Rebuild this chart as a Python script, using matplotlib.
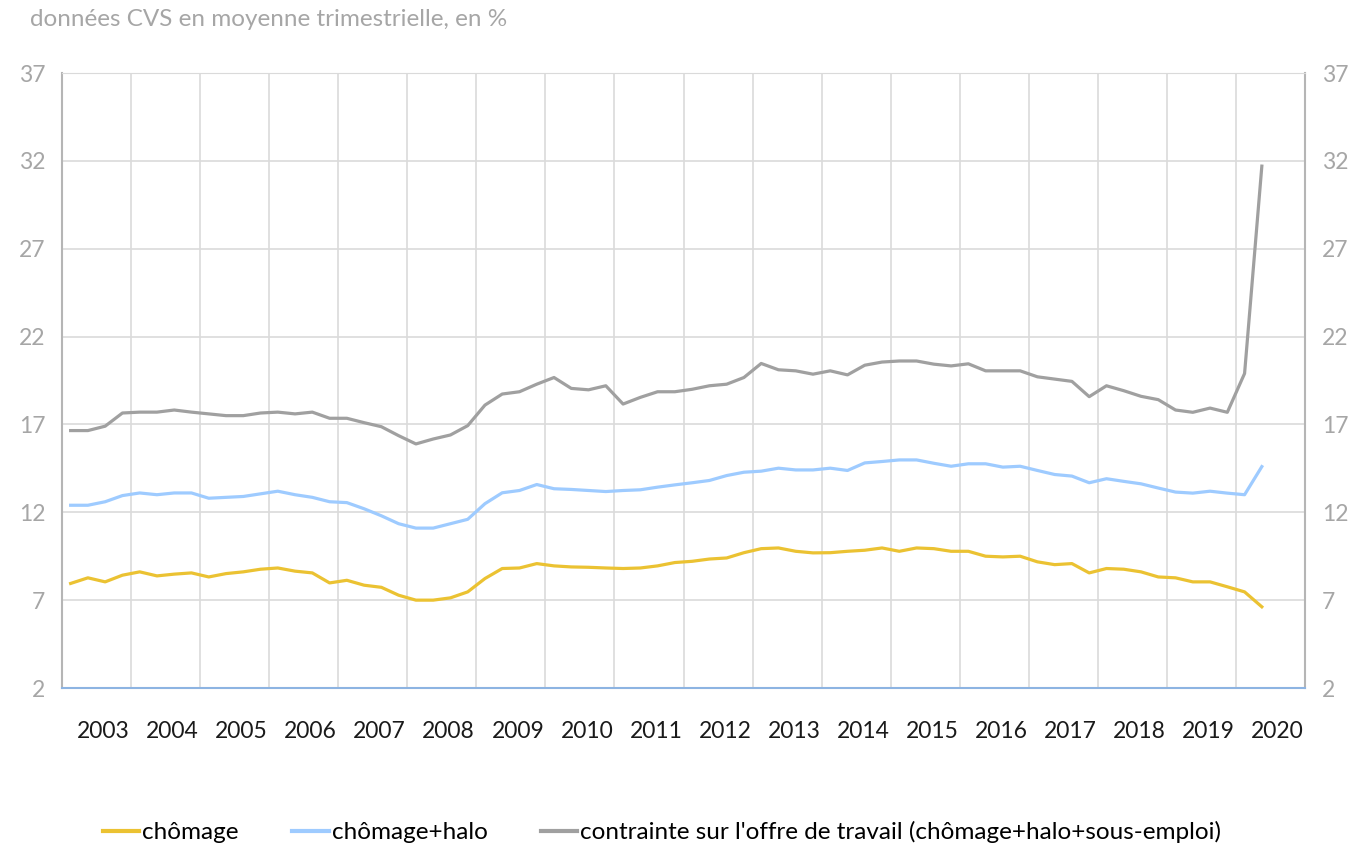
import matplotlib
matplotlib.use("Agg")
import matplotlib.pyplot as plt
import numpy as np

plt.rcParams['font.family'] = ['Lato', 'DejaVu Sans']

# quarterly data, 2003 Q1 -> 2020 Q2
years = list(range(2003, 2021))
first_year = 2003
n_quarters = 70

chomage = [7.95, 8.27, 8.04, 8.42, 8.61, 8.38, 8.48, 8.55, 8.32, 8.51,
           8.61, 8.76, 8.83, 8.65, 8.55, 7.98, 8.13, 7.85, 7.73, 7.28,
           7.0, 7.0, 7.13, 7.47, 8.23, 8.8, 8.83, 9.08, 8.95, 8.89,
           8.87, 8.83, 8.8, 8.83, 8.95, 9.14, 9.21, 9.34, 9.4, 9.7,
           9.93, 9.97, 9.78, 9.69, 9.7, 9.78, 9.84, 9.97, 9.78, 9.97,
           9.93, 9.78, 9.78, 9.5, 9.46, 9.5, 9.18, 9.02, 9.08, 8.55,
           8.8, 8.76, 8.61, 8.32, 8.27, 8.04, 8.04, 7.76, 7.47, 6.62]

chomage_halo = [12.4, 12.4, 12.6, 12.95, 13.1, 13.0, 13.1, 13.1, 12.8, 12.85,
                12.9, 13.05, 13.2, 13.0, 12.85, 12.6, 12.55, 12.2, 11.8, 11.35,
                11.1, 11.1, 11.35, 11.6, 12.49, 13.11, 13.24, 13.58, 13.34, 13.3,
                13.24, 13.18, 13.24, 13.28, 13.43, 13.56, 13.68, 13.81, 14.09, 14.28,
                14.34, 14.51, 14.41, 14.41, 14.51, 14.38, 14.81, 14.89, 14.98, 14.98,
                14.79, 14.62, 14.76, 14.76, 14.57, 14.62, 14.38, 14.15, 14.06, 13.68,
                13.91, 13.76, 13.62, 13.38, 13.15, 13.09, 13.2, 13.09, 13.0, 14.6]

contrainte = [16.65, 16.65, 16.9, 17.65, 17.7, 17.7, 17.82, 17.7, 17.6, 17.5,
              17.5, 17.65, 17.7, 17.6, 17.7, 17.35, 17.35, 17.1, 16.87, 16.36,
              15.89, 16.17, 16.4, 16.93, 18.1, 18.73, 18.86, 19.29, 19.67, 19.05,
              18.97, 19.2, 18.16, 18.54, 18.86, 18.86, 19.0, 19.2, 19.29, 19.67,
              20.47, 20.11, 20.05, 19.86, 20.05, 19.82, 20.37, 20.55, 20.61, 20.61,
              20.43, 20.33, 20.45, 20.05, 20.05, 20.05, 19.71, 19.58, 19.45, 18.58,
              19.2, 18.92, 18.6, 18.41, 17.82, 17.69, 17.93, 17.69, 19.9, 31.7]

labels = ['chômage', 'chômage+halo',
          "contrainte sur l'offre de travail (chômage+halo+sous-emploi)"]
colors = ['#EBC232', '#9ECBFF', '#A0A0A0']
subtitle = 'données CVS en moyenne trimestrielle, en %'

x = first_year + (np.arange(n_quarters) + 0.5) / 4

fig = plt.figure(figsize=(13.57, 8.47), dpi=100)
ax = fig.add_axes([62 / 1357, 1 - 688 / 847, (1305 - 62) / 1357, (688 - 73) / 847])

for serie, lab, col in zip([chomage, chomage_halo, contrainte], labels, colors):
    ax.plot(x, serie, color=col, lw=2.3, label=lab, solid_joinstyle='round')

ax.set_xlim(2003, 2021)
ax.set_ylim(2, 37)
ax.set_yticks(np.arange(2, 38, 5))
# gridlines on year boundaries, year labels centred in each year
ax.set_xticks(np.arange(2003, 2022))
ax.set_xticklabels([])
ax.set_xticks(np.array(years) + 0.6, minor=True)
ax.set_xticklabels([str(y) for y in years], minor=True)
ax.grid(True, which='major', color='#DADADA', lw=1.2)
ax.tick_params(axis='x', which='both', length=0, pad=24, labelsize=16.5, labelcolor='#1A1A1A')
ax.tick_params(axis='y', length=0, labelsize=16.5, labelcolor='#A6A6A6',
               labelright=True, pad=12)

for s in ['left', 'right']:
    ax.spines[s].set_color('#B5B5B5')
    ax.spines[s].set_linewidth(1.5)
ax.spines['top'].set_color('#DADADA')
ax.spines['bottom'].set_color('#8DB4E2')
ax.spines['bottom'].set_linewidth(1.5)

fig.text(30 / 1357, 1 - 20 / 847, subtitle, fontsize=17.5, color='#A6A6A6', va='center')

leg = fig.legend(loc='center', bbox_to_anchor=(662 / 1357, 1 - 832 / 847), ncol=3,
                 frameon=False, fontsize=17.5, handlelength=1.5, handletextpad=0.12,
                 columnspacing=2.2)
for h in leg.get_lines():
    h.set_linewidth(3)

fig.savefig('out.png', dpi=100)
